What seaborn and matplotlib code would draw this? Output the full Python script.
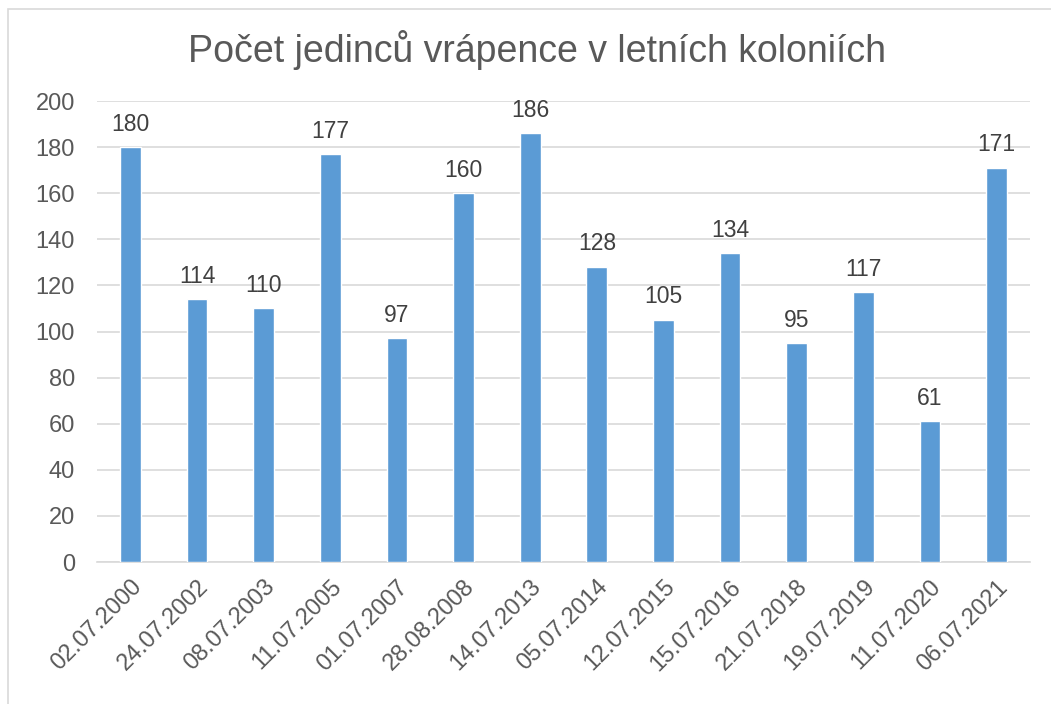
import seaborn as sns
import matplotlib.pyplot as plt
import pandas as pd
import numpy as np

dates = ['02.07.2000', '24.07.2002', '08.07.2003', '11.07.2005', '01.07.2007',
         '28.08.2008', '14.07.2013', '05.07.2014', '12.07.2015', '15.07.2016',
         '21.07.2018', '19.07.2019', '11.07.2020', '06.07.2021']
counts = [180, 114, 110, 177, 97, 160, 186, 128, 105, 134, 95, 117, 61, 171]

df = pd.DataFrame({'datum': dates, 'pocet': counts})

sns.set_style('white')
plt.rcParams['font.family'] = ['Liberation Sans', 'DejaVu Sans']

text_color = '#595959'
grid_color = '#D9D9D9'

fig = plt.figure(figsize=(10.51, 7.04), dpi=100)
ax = fig.add_axes([0.0923, 0.2017, 0.8877, 0.6548])

sns.barplot(data=df, x='datum', y='pocet', color='#5B9BD5', width=0.31,
            saturation=1, ax=ax, zorder=3)

for i, v in enumerate(counts):
    ax.text(i, v + 5, str(v), ha='center', va='bottom', fontsize=16.5, color='#404040')

ax.set_ylim(0, 200)
ax.set_xlim(-0.5, len(dates) - 0.5)
ax.set_yticks(range(0, 201, 20))
ax.yaxis.grid(True, color=grid_color, linewidth=1.2, zorder=0)
ax.set_xlabel('')
ax.set_ylabel('')
for s in ['top', 'right', 'left']:
    ax.spines[s].set_visible(False)
ax.spines['bottom'].set_color(grid_color)
ax.spines['bottom'].set_linewidth(1.2)

ax.tick_params(axis='y', labelsize=17, colors=text_color, length=0, pad=16)
ax.tick_params(axis='x', which='major', labelsize=17, colors=text_color, length=0, pad=10)
ax.set_xticks(np.arange(-0.5, len(dates), 1), minor=True)
ax.tick_params(axis='x', which='minor', length=6, color=grid_color, width=1.2)
plt.setp(ax.get_xticklabels(), rotation=45, ha='right', rotation_mode='anchor')

fig.suptitle('Počet jedinců vrápence v letních koloniích', x=0.511, y=0.957,
             fontsize=27, color=text_color)

border = plt.Rectangle((0.008, -0.01), 1.0, 0.997, transform=fig.transFigure,
                       fill=False, edgecolor=grid_color, linewidth=1.2)
fig.add_artist(border)

fig.savefig('out.png', dpi=100)
